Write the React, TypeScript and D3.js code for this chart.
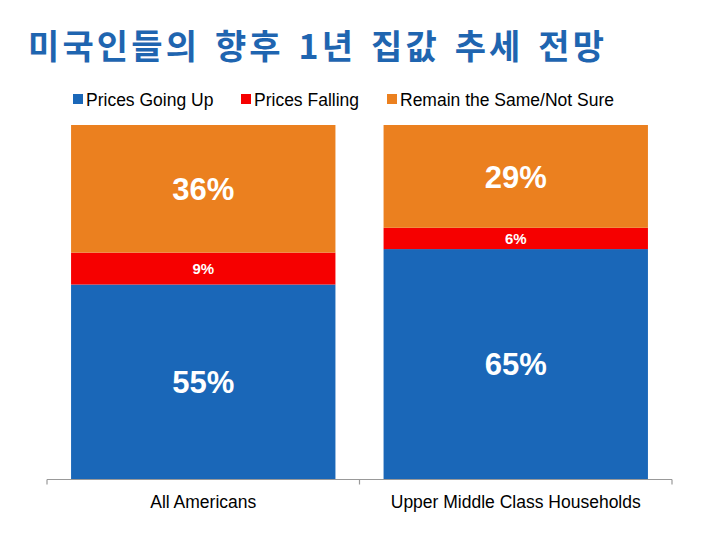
import React, { useEffect, useRef } from 'react';
import * as d3 from 'd3';

// Survey data
const categories = ['All Americans', 'Upper Middle Class Households'];
const seriesNames = ['Prices Going Up', 'Prices Falling', 'Remain the Same/Not Sure'];
const pricesGoingUp = [55, 65];
const pricesFalling = [9, 6];
const remainSame = [36, 29];
const title = '미국인들의 향후 1년 집값 추세 전망';

const colors = ['#1A67B8', '#F60000', '#EB801F'];

const App: React.FC = () => {
  const svgRef = useRef<SVGSVGElement>(null);

  useEffect(() => {
    if (!svgRef.current) return;
    const svg = d3.select(svgRef.current);
    svg.selectAll('*').remove();

    const rows = categories.map((c, i) => ({
      category: c,
      up: pricesGoingUp[i],
      falling: pricesFalling[i],
      same: remainSame[i],
    }));
    const keys = ['up', 'falling', 'same'];
    const stacked = d3.stack<any>().keys(keys)(rows);

    const x = d3.scaleBand<string>()
      .domain(categories)
      .range([47, 672])
      .paddingInner(0.154)
      .paddingOuter(0.077);

    const y = d3.scaleLinear().domain([0, 100]).range([479.5, 125]);

    // Title
    svg.append('text')
      .attr('x', 28)
      .attr('y', 59)
      .attr('fill', '#1F65B0')
      .attr('font-family', '"Noto Sans CJK KR", sans-serif')
      .attr('font-weight', 700)
      .attr('font-size', 34)
      .attr('word-spacing', 4)
      .attr('textLength', 576)
      .attr('lengthAdjust', 'spacing')
      .text(title);

    // Legend
    const legendX = [73, 241, 387];
    const legend = svg.append('g').attr('font-family', '"Liberation Sans", Arial, sans-serif');
    seriesNames.forEach((name, i) => {
      legend.append('rect')
        .attr('x', legendX[i])
        .attr('y', 94)
        .attr('width', 10)
        .attr('height', 10)
        .attr('fill', colors[i]);
      legend.append('text')
        .attr('x', legendX[i] + 13)
        .attr('y', 106)
        .attr('font-size', 17.5)
        .attr('fill', '#000')
        .text(name);
    });

    // Bars
    const g = svg.append('g');
    stacked.forEach((layer, li) => {
      const grp = g.append('g').attr('fill', colors[li]);
      grp.selectAll('rect')
        .data(layer)
        .join('rect')
        .attr('x', d => x(d.data.category) as number)
        .attr('width', x.bandwidth())
        .attr('y', d => y(d[1]))
        .attr('height', d => y(d[0]) - y(d[1]));

      grp.selectAll('text')
        .data(layer)
        .join('text')
        .attr('x', d => (x(d.data.category) as number) + x.bandwidth() / 2)
        .attr('y', d => (y(d[0]) + y(d[1])) / 2)
        .attr('dy', '0.36em')
        .attr('text-anchor', 'middle')
        .attr('fill', '#fff')
        .attr('font-family', '"Liberation Sans", Arial, sans-serif')
        .attr('font-weight', 700)
        .attr('font-size', keys[li] === 'falling' ? 15 : 31)
        .text(d => `${d[1] - d[0]}%`);
    });

    // X axis: baseline with ticks at band boundaries
    const axis = svg.append('g').attr('stroke', '#999').attr('stroke-width', 1.2);
    axis.append('line')
      .attr('x1', 47).attr('x2', 672)
      .attr('y1', y(0)).attr('y2', y(0));
    const step = x.step();
    const bounds = [47, ...categories.map(c => (x(c) as number) - x.paddingOuter() * step + step)];
    bounds.forEach(b => {
      axis.append('line')
        .attr('x1', b).attr('x2', b)
        .attr('y1', y(0)).attr('y2', y(0) + 5);
    });

    svg.append('g')
      .selectAll('text')
      .data(categories)
      .join('text')
      .attr('x', d => (x(d) as number) + x.bandwidth() / 2)
      .attr('y', 508)
      .attr('text-anchor', 'middle')
      .attr('font-family', '"Liberation Sans", Arial, sans-serif')
      .attr('font-size', 17.5)
      .attr('fill', '#000')
      .text(d => d);
  }, []);

  return (
    <svg
      ref={svgRef}
      width={720}
      height={540}
      style={{ position: 'absolute', left: 0, top: 0, background: '#fff' }}
    />
  );
};

export default App;
